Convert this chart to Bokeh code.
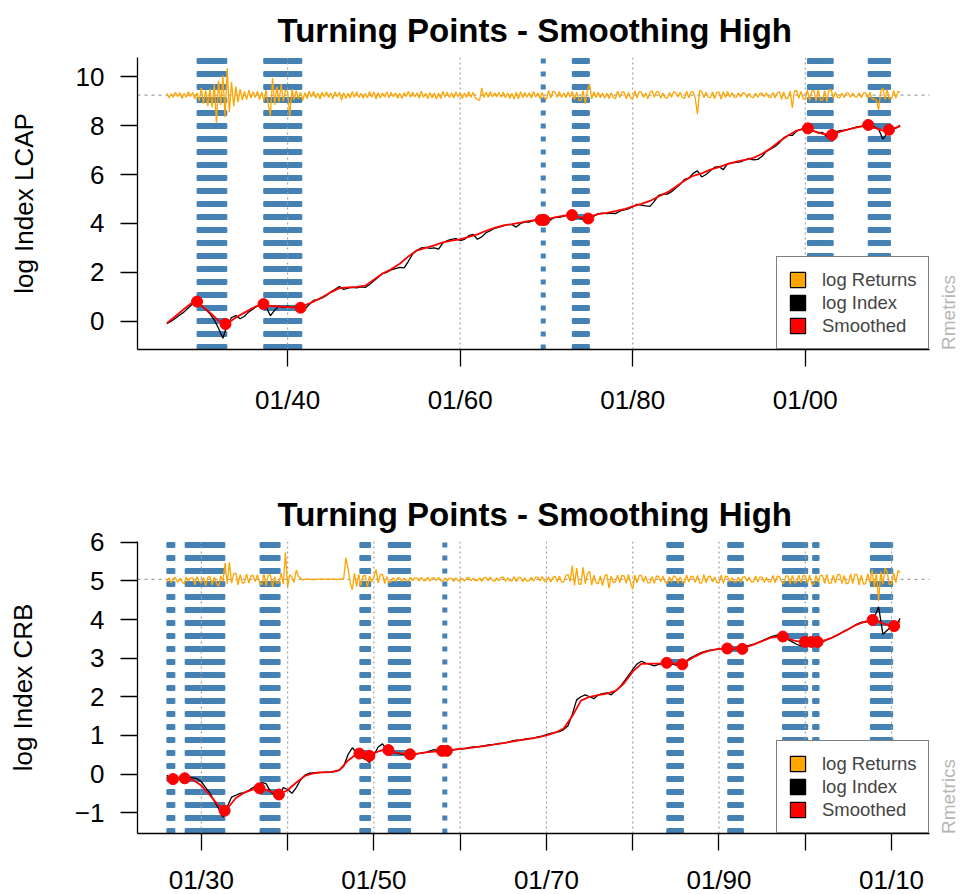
import numpy as np
from bokeh.plotting import figure
from bokeh.models import Range1d, FixedTicker, Legend, LegendItem
from bokeh.layouts import column
from bokeh.core.properties import value
from bokeh.embed import file_html
from bokeh.resources import INLINE

FONT = "Liberation Sans"
TITLE = "Turning Points - Smoothing High"
LEGEND_LABELS = ["log Returns", "log Index", "Smoothed"]
LEGEND_COLORS = ["orange", "black", "red"]
CREDIT = "Rmetrics"
START_YEAR = 1926.0
X_START, X_END = 1922.6, 2014.4

# ---------------- LCAP panel ----------------
# log index, two values per year from 1926.0
lcap_index = [
    -0.10, 0.00, 0.12, 0.25, 0.38, 0.55, 0.70, 0.87, 0.62, 0.48, 0.30, 0.05, -0.30, -0.70, -0.15, 0.15, 0.23, 0.10, 0.20, 0.38,
    0.50, 0.62, 0.72, 0.60, 0.22, 0.45, 0.62, 0.55, 0.63, 0.55, 0.60, 0.52, 0.50, 0.68, 0.85, 0.88, 0.95, 1.05, 1.20, 1.30,
    1.42, 1.30, 1.35, 1.38, 1.36, 1.40, 1.38, 1.50, 1.65, 1.80, 1.95, 2.00, 2.10, 2.15, 2.20, 2.18, 2.45, 2.75, 2.90, 3.00,
    3.02, 2.98, 3.00, 2.95, 3.20, 3.30, 3.35, 3.38, 3.30, 3.35, 3.50, 3.55, 3.35, 3.45, 3.62, 3.70, 3.80, 3.85, 3.90, 3.95,
    3.95, 3.85, 4.00, 4.05, 4.05, 4.12, 4.15, 4.10, 4.02, 4.15, 4.25, 4.25, 4.30, 4.35, 4.35, 4.28, 4.20, 4.12, 4.25, 4.30,
    4.40, 4.42, 4.40, 4.42, 4.40, 4.50, 4.55, 4.60, 4.68, 4.78, 4.75, 4.72, 4.70, 4.90, 5.15, 5.20, 5.20, 5.30, 5.45, 5.60,
    5.80, 5.85, 6.05, 6.15, 5.90, 6.00, 6.15, 6.30, 6.32, 6.20, 6.45, 6.48, 6.50, 6.52, 6.60, 6.65, 6.60, 6.62, 6.75, 6.95,
    7.05, 7.15, 7.30, 7.50, 7.60, 7.60, 7.78, 7.85, 7.90, 7.85, 7.78, 7.70, 7.72, 7.55, 7.62, 7.75, 7.80, 7.82, 7.85, 7.90,
    7.95, 7.98, 8.03, 8.05, 7.95, 7.85, 7.45, 7.70, 7.85, 7.90, 8.02,
]
# smoothed log index, one value per year from 1926
lcap_smooth = [
    -0.08, 0.20, 0.50, 0.78, 0.65, 0.35, 0.02, -0.10, 0.15, 0.35, 0.55, 0.70, 0.62, 0.60, 0.58, 0.56, 0.65, 0.80, 0.98, 1.18,
    1.35, 1.38, 1.40, 1.45, 1.70, 1.95, 2.12, 2.35, 2.65, 2.90, 3.00, 3.10, 3.22, 3.30, 3.35, 3.45, 3.55, 3.70, 3.82, 3.92,
    3.97, 4.03, 4.10, 4.14, 4.17, 4.25, 4.32, 4.33, 4.24, 4.28, 4.38, 4.43, 4.50, 4.58, 4.70, 4.80, 4.92, 5.10, 5.27, 5.50,
    5.75, 5.95, 6.05, 6.20, 6.30, 6.43, 6.53, 6.60, 6.68, 6.85, 7.08, 7.35, 7.60, 7.80, 7.88, 7.78, 7.67, 7.62, 7.75, 7.85,
    7.93, 8.00, 7.92, 7.80, 7.85, 7.98,
]
# log returns (hundredths), four values per year from 1926.0, drawn around a level
lcap_returns = [
    8, -12, 5, -9, 12, -6, 10, -14, 7, -10, 14, -5, 11, -15, 9, -25, 30, -35, 20, -45,
    25, -50, 45, -115, 60, -40, 80, -90, 110, -70, 55, -45, 35, -30, 25, -20, 15, -18, 20, -12,
    14, -10, 16, -18, 12, -25, 20, -35, -85, 70, -40, 35, -30, 45, -25, 20, 15, -85, 25, -20,
    18, -15, 12, -22, 10, -14, 16, -8, 15, -12, 9, -16, 12, -8, 14, -10, 9, -15, 13, -7,
    12, -20, 10, -14, 8, -12, 15, -9, 14, -10, 8, -13, 7, -11, 15, -9, 13, -16, 10, -12,
    9, -8, 14, -11, 12, -7, 9, -13, 8, -14, 10, -6, 15, -9, 12, -8, 10, -13, 16, -9,
    7, -15, 11, -12, 9, -16, 8, -14, 15, -8, 12, -10, 9, -12, 13, -7, 11, -14, 9, -10,
    14, -9, 12, -11, -18, -22, 30, -10, 12, -9, 14, -8, 10, -7, 12, -9, 13, -11, 9, -14,
    8, -16, 12, -15, 14, -10, 11, -9, 10, -13, 15, -8, 9, -14, 11, -12, -16, 18, -12, 15,
    12, -9, 14, -10, 9, -11, 13, -8, 15, -18, 12, -20, -22, 18, -35, 20, 45, -15, 14, -10,
    12, -11, 9, -13, 8, -14, 10, -9, -15, 16, -10, 12, 13, -15, 11, -12, -16, 18, -12, 14,
    12, -10, 9, -15, 10, 18, -9, 14, 12, -13, 9, -10, -12, 11, -9, 13, 10, -8, 12, -9,
    -14, 16, -11, 13, 14, -12, -78, 18, 16, -10, 12, -9, -10, 13, -15, 11, 12, -17, 14, -10,
    15, -9, 10, -8, -9, 10, -7, 9, 8, -9, 7, -8, -10, 8, -9, 7, 8, -7, 9, -8,
    -10, 11, -12, 9, 14, -17, 13, -15, -12, 16, -52, 18, 18, -13, 15, -14, -17, 20, -22, 16,
    18, -25, 22, -20, -20, 18, -28, 22, 22, -13, 12, -10, -11, 9, -10, 8, 8, -9, 9, -7,
    -8, 10, -11, 9, 9, -13, 11, -16, -15, -22, -60, 15, 30, -18, 22, -15, -16, 18, -12, 14,
    13,
]
lcap_returns_level = 9.25
lcap_tp_year = [1929.5, 1932.8, 1937.2, 1941.5, 1969.35, 1969.75, 1972.96, 1974.85, 2000.3, 2003.1, 2007.3, 2009.7]
lcap_tp_value = [0.80, -0.12, 0.70, 0.55, 4.14, 4.14, 4.34, 4.20, 7.89, 7.62, 8.03, 7.83]
lcap_down_start = [1929.74, 1937.47, 1969.63, 1973.23, 2000.48, 2007.53]
lcap_down_end = [1932.72, 1941.41, 1969.63, 1974.74, 2003.00, 2009.65]
lcap_xticks = [1940, 1960, 1980, 2000]
lcap_xtick_labels = ["01/40", "01/60", "01/80", "01/00"]
lcap_yticks = [0, 2, 4, 6, 8, 10]
lcap_ylim = (-1.16, 10.79)

# ---------------- CRB panel ----------------
crb_index = [
    -0.03, -0.12, -0.10, -0.13, -0.10, -0.08, -0.10, -0.12, -0.20, -0.35, -0.50, -0.70, -0.90, -1.12, -0.85, -0.60, -0.55, -0.50, -0.48, -0.42,
    -0.35, -0.30, -0.22, -0.25, -0.45, -0.55, -0.62, -0.35, -0.40, -0.50, -0.35, -0.15, -0.03, 0.02, 0.03, 0.04, 0.04, 0.05, 0.05, 0.06,
    0.10, 0.20, 0.50, 0.68, 0.55, 0.45, 0.38, 0.30, 0.50, 0.70, 0.78, 0.62, 0.58, 0.55, 0.52, 0.50, 0.52, 0.50, 0.52, 0.54,
    0.56, 0.60, 0.63, 0.60, 0.60, 0.62, 0.62, 0.64, 0.65, 0.66, 0.68, 0.70, 0.70, 0.72, 0.74, 0.76, 0.77, 0.79, 0.80, 0.82,
    0.85, 0.88, 0.88, 0.90, 0.92, 0.93, 0.96, 0.98, 1.02, 1.05, 1.08, 1.10, 1.15, 1.25, 1.55, 1.92, 2.00, 2.05, 2.00, 1.95,
    2.05, 2.08, 2.10, 2.05, 2.15, 2.25, 2.40, 2.55, 2.70, 2.85, 2.92, 2.87, 2.84, 2.80, 2.84, 2.86, 2.88, 2.86, 2.82, 2.84,
    2.90, 2.98, 3.04, 3.10, 3.15, 3.18, 3.21, 3.22, 3.24, 3.25, 3.25, 3.24, 3.25, 3.26, 3.30, 3.33, 3.36, 3.40, 3.45, 3.50,
    3.55, 3.58, 3.60, 3.55, 3.48, 3.42, 3.36, 3.32, 3.35, 3.42, 3.38, 3.35, 3.42, 3.48, 3.52, 3.57, 3.63, 3.70, 3.75, 3.82,
    3.88, 3.93, 3.93, 3.98, 4.05, 4.33, 3.62, 3.72, 3.82, 3.85, 4.03,
]
crb_smooth = [
    -0.10, -0.12, -0.11, -0.15, -0.30, -0.55, -0.82, -0.90, -0.62, -0.48, -0.40, -0.37, -0.45, -0.52, -0.42, -0.22, -0.05, 0.02, 0.04, 0.05,
    0.10, 0.35, 0.52, 0.48, 0.55, 0.62, 0.58, 0.54, 0.51, 0.53, 0.56, 0.58, 0.60, 0.62, 0.65, 0.67, 0.70, 0.73, 0.77, 0.80,
    0.84, 0.88, 0.91, 0.95, 1.00, 1.07, 1.18, 1.50, 1.90, 2.00, 2.04, 2.08, 2.15, 2.35, 2.65, 2.85, 2.86, 2.86, 2.88, 2.85,
    2.88, 3.02, 3.13, 3.20, 3.24, 3.25, 3.25, 3.28, 3.35, 3.44, 3.53, 3.56, 3.50, 3.44, 3.42, 3.42, 3.44, 3.52, 3.63, 3.75,
    3.87, 3.95, 3.97, 3.90, 3.83, 3.95,
]
crb_returns = [
    -6, 4, -9, 3, 5, -8, 3, -6, -12, 6, -5, 4, 4, -14, 7, -5, -9, 5, -17, 6,
    7, -14, 6, -9, -18, 9, -6, 42, -12, 44, -10, 14, 16, -14, 12, -10, -8, 14, -10, 9,
    10, -6, 12, -8, -14, 15, -17, 10, 12, -20, 7, -10, -9, 16, -12, 70, -20, 12, 6, -8,
    24, 8, 3, -2, 1, 0, 1, -1, 0, -1, 1, 0, 1, 0, 0, 1, 0, 1, 0, -1,
    1, 0, 2, 56, 28, -8, -27, 16, -19, 13, -16, 9, 11, -21, 9, -6, 6, 26, -9, 12,
    13, -11, 7, -8, -7, 5, -6, 4, 4, -5, 3, -4, -4, 5, -3, 4, 4, -4, 5, -3,
    -3, 6, -5, 4, 4, -3, 5, -4, -5, 4, -4, 3, 3, -5, 4, -3, -4, 3, -5, 4,
    5, -4, 3, -3, -3, 4, -5, 4, 5, -4, 6, -3, -5, 4, -4, 5, 6, -5, 4, -4,
    -4, 7, -6, 5, 5, -6, 4, -5, -4, 5, -5, 6, 6, -4, 7, -5, -5, 6, -7, 5,
    8, -6, 9, -7, -7, 10, 13, -6, 36, -16, 29, -12, -13, 31, -11, 14, 21, -15, 11, -9,
    -11, 9, -16, 8, 13, -23, 9, -8, -7, 11, -8, 10, 9, -10, 13, -9, -26, 11, -9, 10,
    10, -7, 8, -9, -9, 7, -10, 8, 8, -6, 9, -7, -11, 7, -8, 9, 6, -10, 7, -8,
    -9, 11, -7, 8, 7, -8, 10, -9, -10, 13, -9, 7, 8, -7, 6, -8, -9, 11, -10, 8,
    7, -6, 5, -7, -7, 6, -8, 6, 7, -5, 6, -7, -6, 9, -7, 6, 6, -8, 5, -6,
    -7, 10, -9, 8, 7, -6, -11, 9, 8, -13, 10, -9, -7, 11, -9, 10, 9, -10, 11, -12,
    -13, 10, -8, 11, 9, -11, 13, -10, -10, 11, -9, 12, 13, -11, 10, -12, -9, 14, -11, 13,
    13, -15, 11, -12, -11, 15, -10, 25, -21, 16, -56, 20, -13, 29, 19, -14, -11, 17, -9, 23,
    16,
]
crb_returns_level = 5.04
crb_tp_year = [1926.72, 1928.07, 1932.7, 1936.75, 1938.99, 1948.32, 1949.48, 1951.68, 1954.19, 1957.9, 1958.45,
               1983.94, 1985.75, 1990.96, 1992.7, 1997.4, 1999.96, 2000.7, 2001.43, 2007.8, 2010.3]
crb_tp_value = [-0.13, -0.11, -0.95, -0.37, -0.53, 0.53, 0.47, 0.62, 0.51, 0.60, 0.60,
                2.88, 2.84, 3.25, 3.24, 3.56, 3.42, 3.42, 3.42, 3.99, 3.83]
crb_down_start = [1926.24, 1928.36, 1937.04, 1948.61, 1951.90, 1958.22, 1984.19, 1991.25, 1997.60, 2001.09, 2007.78]
crb_down_end = [1926.70, 1932.49, 1938.89, 1949.39, 1954.02, 1958.22, 1985.65, 1992.59, 2000.05, 2001.36, 2009.90]
crb_xticks = [1930, 1940, 1950, 1960, 1970, 1980, 1990, 2000, 2010]
crb_xtick_labels = ["01/30", "", "01/50", "", "01/70", "", "01/90", "", "01/10"]
crb_yticks = [-1, 0, 1, 2, 3, 4, 5, 6]
crb_ylim = (-1.54, 6.02)

# layout in pixels: axes box is 792 x 292, starting 137 px from the left;
# the drawing area extends 31 px further right to hold the credit text
LEFT, PLOT_W, RIGHT, FRAME_H = 137, 792, 31, 292
PX_PER_YEAR = PLOT_W / (X_END - X_START)
X_FRAME_END = X_START + (PLOT_W + RIGHT) / PX_PER_YEAR


def make_panel(ylabel, index, smooth, returns, level, tp_year, tp_value, d_start, d_end,
               xticks, xlabels, yticks, ylim, top, bottom, xlabel_standoff):
    p = figure(frame_width=PLOT_W + RIGHT, frame_height=FRAME_H,
               min_border_left=LEFT, min_border_right=0, min_border_top=top, min_border_bottom=bottom,
               x_range=Range1d(X_START, X_FRAME_END), y_range=Range1d(*ylim),
               output_backend="svg", toolbar_location=None, title=TITLE,
               background_fill_color="white", border_fill_color="white")
    p.outline_line_color = None
    p.xgrid.grid_line_color = None
    p.ygrid.grid_line_color = None
    y0, y1 = ylim
    px_per_unit = FRAME_H / (y1 - y0)

    # down-turn periods: columns of thick dotted steelblue verticals
    xs, ys = [], []
    for s, e in zip(d_start, d_end):
        n = int(round((e - s) * 24)) + 1
        for x in np.linspace(s, e, n):
            xs.append([x, x])
            ys.append([y0, y1])
    p.multi_line(xs, ys, line_color="steelblue", line_width=5, line_dash="5 8", line_cap="butt")

    # dotted grid at ticks and return level
    p.segment(x0=xticks, x1=xticks, y0=y0, y1=y1, line_color="#a0a0a0", line_width=1.2, line_dash="2 3")
    p.segment(x0=[X_START], x1=[X_END], y0=[level], y1=[level], line_color="#a0a0a0", line_width=1.2, line_dash="3 4")

    rx = START_YEAR + np.arange(len(returns)) / 4.0
    p.line(rx, level + np.array(returns) / 100.0, line_color="orange", line_width=1.3)
    ix = START_YEAR + np.arange(len(index)) / 2.0
    p.line(ix, index, line_color="black", line_width=1.3)
    sx = START_YEAR + np.arange(len(smooth))
    p.line(sx, smooth, line_color="red", line_width=1.8)
    p.scatter(tp_year, tp_value, size=11, fill_color="red", line_color="red", marker="circle")

    # credit text, rotated, in the strip right of the axes box
    p.text(x=[X_END + 19 / PX_PER_YEAR], y=[y0 + 37 / px_per_unit], text=[CREDIT], angle=np.pi / 2,
           text_align="center", text_baseline="middle", text_font=value(FONT),
           text_font_size="19px", text_color="#b5b5b5")

    # axes
    for ax in (p.xaxis[0], p.yaxis[0]):
        ax.axis_line_width = 1.3
        ax.major_tick_line_width = 1.3
        ax.major_tick_out = 17
        ax.major_tick_in = 0
        ax.minor_tick_out = 0
        ax.minor_tick_in = 0
        ax.major_label_text_font = FONT
        ax.major_label_text_font_size = "26px"
        ax.major_label_text_color = "black"
        ax.axis_line_color = "black"
        ax.major_tick_line_color = "black"
    p.xaxis.bounds = (X_START, X_END)
    p.xaxis.ticker = FixedTicker(ticks=xticks)
    p.xaxis.major_label_overrides = {t: l for t, l in zip(xticks, xlabels)}
    p.xaxis.major_label_standoff = xlabel_standoff
    p.yaxis.ticker = FixedTicker(ticks=yticks)
    p.yaxis.major_label_orientation = "horizontal"
    p.yaxis.major_label_standoff = 16
    p.yaxis.axis_label = ylabel
    p.yaxis.axis_label_text_font = FONT
    p.yaxis.axis_label_text_font_size = "26px"
    p.yaxis.axis_label_text_font_style = "normal"
    p.yaxis.axis_label_text_color = "black"
    p.yaxis.axis_label_standoff = 34

    # title centred over the axes box (not the credit strip)
    p.title.text_font = FONT
    p.title.text_font_size = "33px"
    p.title.text_font_style = "bold"
    p.title.text_color = "black"
    p.title.align = "left"
    p.title.offset = 140
    p.title.standoff = 18

    # legend (glyph-only renderers with no visible data); right edge on the axes box edge
    dummies = [p.quad(left=[np.nan], right=[np.nan], top=[np.nan], bottom=[np.nan],
                      fill_color=c, line_color="black", line_width=1.2)
               for c in LEGEND_COLORS]
    legend = Legend(items=[LegendItem(label=l, renderers=[r]) for l, r in zip(LEGEND_LABELS, dummies)],
                    location=(639, 0), margin=0, padding=11, spacing=0,
                    glyph_width=19, glyph_height=19, label_height=23, label_standoff=15,
                    label_text_font=FONT, label_text_font_size="18.5px",
                    border_line_color="black", border_line_width=1.3,
                    background_fill_color="white", background_fill_alpha=1.0)
    p.add_layout(legend)
    return p


p1 = make_panel("log Index LCAP", lcap_index, lcap_smooth, lcap_returns, lcap_returns_level,
                lcap_tp_year, lcap_tp_value, lcap_down_start, lcap_down_end,
                lcap_xticks, lcap_xtick_labels, lcap_yticks, lcap_ylim, 56, 99, 18)
p2 = make_panel("log Index CRB", crb_index, crb_smooth, crb_returns, crb_returns_level,
                crb_tp_year, crb_tp_value, crb_down_start, crb_down_end,
                crb_xticks, crb_xtick_labels, crb_yticks, crb_ylim, 93, 62, 14)

layout = column(p1, p2, spacing=0)
open("out.html", "w").write(file_html(layout, INLINE))
